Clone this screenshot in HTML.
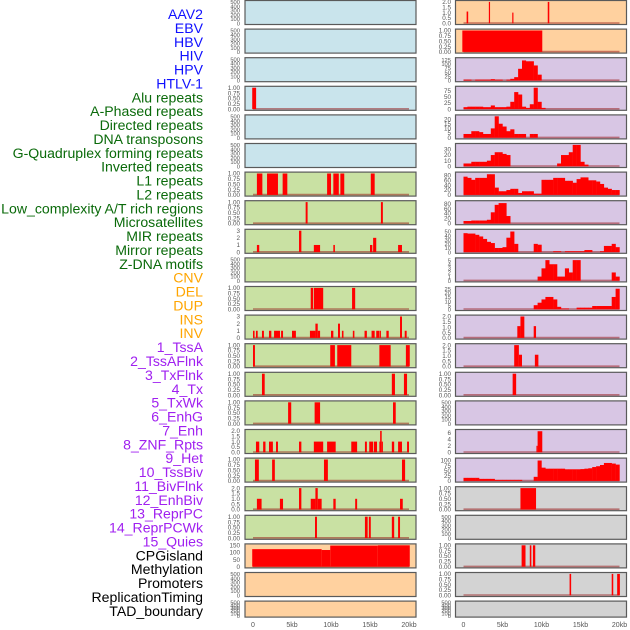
<!DOCTYPE html>
<html><head><meta charset="utf-8"><style>
html,body{margin:0;padding:0;background:#fff;}
svg{display:block;font-family:"Liberation Sans",sans-serif;}
</style></head><body>
<svg id="chart" width="630" height="630" viewBox="0 0 630 630" xmlns="http://www.w3.org/2000/svg"></svg>
<script>
// ---- labels ----
const trackLabels = ["AAV2","EBV","HBV","HIV","HPV","HTLV-1","Alu repeats","A-Phased repeats","Directed repeats","DNA transposons","G-Quadruplex forming repeats","Inverted repeats","L1 repeats","L2 repeats","Low_complexity A/T rich regions","Microsatellites","MIR repeats","Mirror repeats","Z-DNA motifs","CNV","DEL","DUP","INS","INV","1_TssA","2_TssAFlnk","3_TxFlnk","4_Tx","5_TxWk","6_EnhG","7_Enh","8_ZNF_Rpts","9_Het","10_TssBiv","11_BivFlnk","12_EnhBiv","13_ReprPC","14_ReprPCWk","15_Quies","CPGisland","Methylation","Promoters","ReplicationTiming","TAD_boundary"];
const labelGroups = [6,13,5,15,5];
const xTickValues = [0,5,10,15,20];
const xTickLabels = ["0","5kb","10kb","15kb","20kb"];

// tick sets
const ticksEmpty = [0,100,200,300,400,500];
const ticksOne = [0,0.25,0.5,0.75,1];
const ticksOneLab = ["0.00","0.25","0.50","0.75","1.00"];
const ticksTwo = [0,0.5,1,1.5,2];
const ticksTwoLab = ["0.0","0.5","1.0","1.5","2.0"];
const ticksThree = [0,1,2,3];

// ---- left column data (segments: startKb, endKb, value) ----
const leftR3 = [[-0.1,0.4,1]];
const leftR6 = [[0.5,1.2,1],[1.8,3.2,1],[3.8,4.4,1],[9.5,10,1],[10.3,11,1],[11.2,11.7,1],[15.1,15.6,1]];
const leftR7 = [[6.75,7.0,1],[16.4,16.65,1]];
const leftR8 = [[0.5,0.8,1],[5.9,6.2,3],[7.8,8.6,1],[10.3,10.5,1],[15,15.3,1],[15.4,15.8,2],[18.6,19.1,1]];
const leftR10 = [[7.4,7.7,1],[7.8,9.0,1],[12.7,13.1,1]];
const leftR11 = [[0,0.2,1],[0.38,0.6,1],[1.15,1.4,1],[2.05,2.35,1],[2.7,3.46,1],[3.6,3.85,1],[5.0,5.5,1],[7.3,8.0,1],[8.0,8.3,2],[8.3,8.6,1],[10.0,10.3,1],[10.9,11.15,2],[11.4,11.6,1],[12.8,13.0,1],[14.3,14.6,1],[15.2,15.6,1],[15.8,16.2,1],[16.25,16.4,1],[17.1,17.4,1],[18.85,19.1,3],[19.45,19.7,1]];
const leftR12 = [[0,0.25,1],[9.9,10.5,1],[10.8,12.6,1],[16.2,17.65,1],[19.6,20.1,1]];
const leftR13 = [[1.15,1.5,1],[17.8,18.2,1],[19.35,19.75,1]];
const leftR14 = [[4.5,4.9,1],[7.9,8.6,1],[17.95,18.3,1]];
const leftR15 = [[0.38,0.8,1],[1.3,1.6,1],[2.05,2.55,1],[2.95,3.2,1],[5.9,6.2,1],[7.8,9.0,1],[9.5,10.6,1],[12.6,13.35,1],[14.35,14.6,1],[14.9,15.4,1],[15.5,15.9,1],[16.2,16.3,1],[16.3,16.5,2],[16.5,16.6,1],[17.8,18.1,1],[18.6,19.1,1],[19.75,20,1]];
const leftR16 = [[0.25,0.75,1],[2.45,2.8,1],[9.1,9.6,1],[19.1,19.5,1]];
const leftR17 = [[0.5,1.1,1],[3.45,3.85,1],[5.9,6.2,2],[7.4,8.0,1],[8.0,8.3,2],[8.3,8.8,1],[10.3,10.6,1],[13.1,13.35,1],[18.85,19.2,1]];
const leftR18 = [[7.95,8.2,1],[14.35,14.7,1],[14.85,15.1,1],[17.8,18.1,1],[18.6,18.85,1]];
const leftR19 = [[-0.1,8.8,123],[8.8,9.9,117],[9.9,16,148],[16,20.1,150]];

// ---- right column data ----
const rightR0 = [[0.4,0.6,1.1],[3.25,3.4,2],[6.25,6.4,1],[10.8,11,2]];
const rightR1 = [[-0.15,10.1,1]];
// histogram bins of 0.5kb
const rightR2Bins = [5,5,0,5,5,5,5,8,5,5,0,5,10,20,70,120,115,115,90,35,0,0,0,0,0,0,0,0,0,0,0,0,0,0,0,0,0,0,0,0];
const rightR3Bins = [8,10,10,10,10,8,8,15,8,8,8,10,30,70,60,10,5,20,88,30,5,0,0,0,0,0,0,0,0,0,0,0,0,0,0,0,0,0,0,0];
const rightR4Bins = [4,4,7,7,6,4,4,10,23,15,12,7,9,4,4,4,0,4,4,0,0,0,0,0,0,0,0,0,0,0,0,0,0,0,0,0,0,0,0,0];
const rightR5Bins = [5,5,8,8,8,8,10,20,25,25,22,20,0,0,0,0,0,0,0,0,0,0,0,0,5,20,20,25,38,38,8,3,0,0,0,0,0,0,0,0];
const rightR6Bins = [75,70,62,70,70,70,85,85,30,15,15,20,25,25,8,15,15,15,5,5,62,62,62,70,70,70,58,58,50,65,72,72,60,60,55,45,30,25,20,20];
const rightR7Bins = [10,10,12,12,12,12,15,45,75,82,82,30,0,0,0,0,0,0,0,0,0,0,0,0,0,0,0,0,0,0,0,0,0,0,0,0,0,0,0,0];
const rightR8Bins = [46,45,45,42,38,32,25,22,10,10,12,35,50,20,0,0,0,0,20,18,0,0,0,2,2,0,2,2,2,2,2,5,5,0,0,2,15,15,20,12];
const rightR9Bins = [0,0,0,0,0,0,0,0,0,0,0,0,0,0,0,0,0,0,0,1,3,5,4,4,1,1,3,2,5,5,0,0,0,0,0,0,0,0,2,1];
const rightR10Bins = [0,0,0,0,0,0,0,0,0,0,0,0,0,0,0,0,0,0,5,8,12,15,15,12,3,1,1,0,0,2,2,2,2,4,4,4,4,4,15,25];
const rightR11 = [[6.9,7.3,1.1],[7.3,7.8,2],[9.0,9.3,1.1]];
const rightR12 = [[6.5,7.1,2],[7.1,7.5,1.1],[9.15,9.6,1.1]];
const rightR13 = [[6.3,6.75,1]];
const rightR15 = [[9.35,9.5,2],[9.5,10.1,6.5]];
const rightR16Bins = [15,15,15,15,10,10,10,10,5,5,5,5,5,5,5,0,0,0,20,100,65,60,60,60,60,60,57,57,57,57,58,60,62,68,72,78,88,88,85,80];
const rightR17 = [[7.3,9.3,1]];
const rightR19 = [[7.45,7.95,1],[8.5,8.7,1],[8.9,9.2,1]];
const rightR20 = [[13.6,13.8,1],[19.0,19.2,1],[19.7,20.05,1]];

// ---- panel definitions ----
const BG = {lb:"#c9e4ec", g:"#c9e1a3", p:"#ffd19f", l:"#d8c6e4", gr:"#d3d3d3"};
function E(){return {ymax:500,ticks:ticksEmpty,labs:null,segs:null,bins:null};}
function S(segs,ymax,ticks,labs){return {ymax:ymax,ticks:ticks,labs:labs,segs:segs,bins:null};}
function B(bins,ymax,ticks){return {ymax:ymax,ticks:ticks,labs:null,segs:null,bins:bins};}
const leftPanels = [
 E(),E(),E(),S(leftR3,1,ticksOne,ticksOneLab),E(),E(),
 S(leftR6,1,ticksOne,ticksOneLab),S(leftR7,1,ticksOne,ticksOneLab),S(leftR8,3,ticksThree),E(),
 S(leftR10,1,ticksOne,ticksOneLab),S(leftR11,3,ticksThree),S(leftR12,1,ticksOne,ticksOneLab),
 S(leftR13,1,ticksOne,ticksOneLab),S(leftR14,1,ticksOne,ticksOneLab),S(leftR15,2,ticksTwo,ticksTwoLab),
 S(leftR16,1,ticksOne,ticksOneLab),S(leftR17,2,ticksTwo,ticksTwoLab),S(leftR18,1,ticksOne,ticksOneLab),
 S(leftR19,150,[0,50,100,150]),E(),E()
];
const leftBg = ["lb","lb","lb","lb","lb","lb","g","g","g","g","g","g","g","g","g","g","g","g","g","p","p","p"];
const rightPanels = [
 S(rightR0,2,ticksTwo,ticksTwoLab),S(rightR1,1,ticksOne,ticksOneLab),
 B(rightR2Bins,128,[0,25,50,75,100,125]),B(rightR3Bins,88,[0,25,50,75]),B(rightR4Bins,23,[0,5,10,15,20]),
 B(rightR5Bins,38,[0,10,20,30]),B(rightR6Bins,88,[0,20,40,60,80]),B(rightR7Bins,86,[0,20,40,60,80]),
 B(rightR8Bins,52,[0,10,20,30,40,50]),B(rightR9Bins,5.2,[0,1,2,3,4,5]),B(rightR10Bins,26,[0,5,10,15,20,25]),
 S(rightR11,2,ticksTwo,ticksTwoLab),S(rightR12,2,ticksTwo,ticksTwoLab),S(rightR13,1,ticksOne,ticksOneLab),
 E(),S(rightR15,6.6,[0,2,4,6]),B(rightR16Bins,105,[0,25,50,75,100]),
 S(rightR17,1,ticksOne,ticksOneLab),E(),S(rightR19,1,ticksOne,ticksOneLab),S(rightR20,1,ticksOne,ticksOneLab),E()
];
const rightBg = ["p","p","l","l","l","l","l","l","l","l","l","l","l","l","l","l","l","gr","gr","gr","gr","gr"];

const NS="http://www.w3.org/2000/svg";
const svg=document.getElementById("chart");
function mk(tag,attrs,parent){const e=document.createElementNS(NS,tag);for(const k in attrs)e.setAttribute(k,attrs[k]);(parent||svg).appendChild(e);return e;}

// labels
const groupColors=["#1010ff","#0a6a0a","#ffa500","#a020f0","#000000"];
let gi=0,gc=0;
trackLabels.forEach((t,i)=>{
  while(gc>=labelGroups[gi]){gi++;gc=0;}
  gc++;
  const el=mk("text",{x:203,y:14+i*13.88+5,"text-anchor":"end","font-size":"14.1",fill:groupColors[gi]});
  el.textContent=t;
  
  
});

function drawColumn(panels,bgs,px,tickX,colName){
  const pw=171, x0=px+8, kbw=7.8;
  const xs=kb=>x0+kb*kbw;
  panels.forEach((p,i)=>{
    const top=i*28.6+0.5, h=(i===21?16:24);
    const g=mk("g",{});
    
    
    mk("rect",{x:px,y:top,width:pw,height:h,fill:BG[bgs[i]],stroke:"#5a5a5a","stroke-width":1.2},g);
    const base=top+h-1.2, span=h-2.6;
    const ys=v=>base-v/p.ymax*span;
    p.ticks.forEach((tv,j)=>{
      const tl=mk("text",{x:tickX,y:ys(tv)+2.2,"text-anchor":"end","font-size":(p.ticks.length>5?"5.8":"6.3"),fill:"#555"},g);
      tl.textContent=p.labs?p.labs[j]:String(tv);
      
      
    });
    if(p.segs||p.bins){
      const bl=mk("line",{x1:xs(0),x2:xs(20),y1:base-0.3,y2:base-0.3,stroke:"rgba(150,20,20,0.5)","stroke-width":1.6},g);
      
      
    }
    if(p.segs){p.segs.forEach(s=>{
      const r=mk("rect",{x:xs(s[0]),y:ys(s[2]),width:Math.max(1.2,xs(s[1])-xs(s[0])),height:base-ys(s[2]),fill:"#ff0000"},g);
      
      
    });}
    if(p.bins){p.bins.forEach((v,k)=>{
      if(v<=0)return;
      const r=mk("rect",{x:xs(k*0.5),y:ys(v),width:0.5*kbw+0.2,height:base-ys(v),fill:"#ff0000"},g);
      
      
    });}
  });
  xTickValues.forEach((v,j)=>{
    const t=mk("text",{x:xs(v),y:627,"text-anchor":"middle","font-size":"7",fill:"#555"});
    t.textContent=xTickLabels[j];
    
    
  });
}
drawColumn(leftPanels,leftBg,245,240,"left");
drawColumn(rightPanels,rightBg,455.5,451,"right");
</script>
</body></html>
